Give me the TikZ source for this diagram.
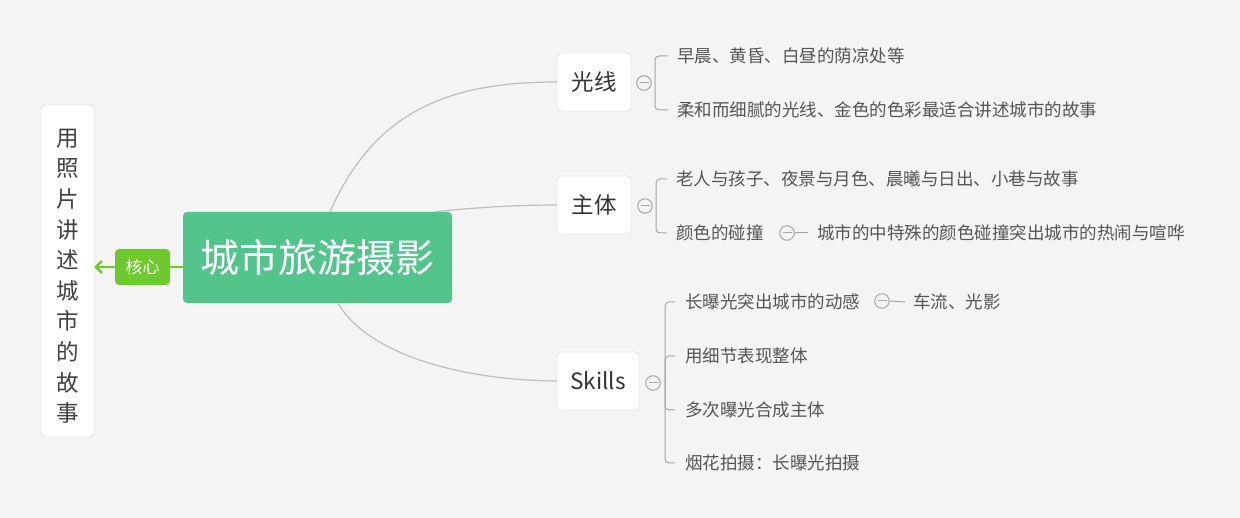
\documentclass[tikz,border=0pt]{standalone}
\usepackage{fontspec}
\setmainfont{Noto Sans CJK SC}
\usetikzlibrary{arrows.meta}
\definecolor{bg}{HTML}{F4F4F4}
\definecolor{maingreen}{HTML}{52C48C}
\definecolor{tagGreen}{HTML}{6DC92E}
\definecolor{linegray}{HTML}{BDBDBD}
\definecolor{boxgray}{HTML}{CFCFCF}
\definecolor{txtgray}{HTML}{555555}

\begin{document}
\begin{tikzpicture}[x=1pt,y=-1pt]
					\fill[bg] (0,0) rectangle (1240,518);
					\useasboundingbox (0,0) rectangle (1240,518);
					\tikzstyle{topic}=[draw=boxgray,fill=white,rounded corners=4pt,text=black!80,font=\fontsize{22.5}{27}\selectfont,minimum height=58pt,inner xsep=0pt]
					\tikzstyle{leaf}=[anchor=west,inner sep=0pt,text=txtgray,font=\fontsize{17.5}{21}\selectfont]
					\tikzstyle{fold}=[circle,draw=black!35,line width=1pt,minimum size=14.5pt,inner sep=0pt,path picture={\draw[black!35,line width=1pt] ([xshift=-4.5pt]path picture bounding box.center) -- ([xshift=4.5pt]path picture bounding box.center);}]
					\tikzstyle{branch}=[linegray,line width=1.2pt]
					\tikzstyle{bracket}=[black!35,line width=1pt,rounded corners=4pt]
					% centre and left side
					\path (317.5,257.5) node[fill=maingreen,rounded corners=4pt,minimum width=269pt,minimum height=91pt,text=white,font=\fontsize{39}{45}\selectfont] (city) {城市旅游摄影};
					\path (142.5,267) node[fill=tagGreen,rounded corners=4pt,minimum width=55pt,minimum height=36pt,text=white,font=\fontsize{17}{20}\selectfont] (core) {核心};
					\path (67.5,271) node[draw=boxgray,fill=white,rounded corners=4pt,minimum width=53pt,minimum height=332pt,text=black!75,font=\fontsize{22.5}{30.6}\selectfont] (story) {\begin{tabular}{@{}c@{}}\rule{0pt}{35pt}用\\照\\片\\讲\\述\\城\\市\\的\\故\\事\end{tabular}};
					\draw[tagGreen,line width=2.5pt] (city.west |- core.east) -- (core.east);
					\draw[tagGreen,line width=2.5pt,-{Straight Barb[length=6pt,width=12pt]}] (core.west) -- (story.east |- core.west);
					% topics
					\path (594,82) node[topic,minimum width=74pt] (light) {光线};
					\path (594,205) node[topic,minimum width=74pt] (subject) {主体};
					\path (598,381) node[topic,minimum width=82pt] (skills) {Skills};
					\draw[branch] ([xshift=12.5pt]city.north) .. controls (375,110) and (450,82) .. (light.west);
					\draw[branch] ([xshift=117.5pt]city.north) .. controls (480,207) and (520,205) .. (subject.west);
					\draw[branch] ([xshift=20.5pt]city.south) .. controls (365,350) and (450,380) .. (skills.west);
					\path (644,83) node[fold] (f1) {};
					\path (645,206) node[fold] (f2) {};
					\path (653,383) node[fold] (f3) {};
					\path (787,233) node[fold] (f4) {};
					\path (882,301) node[fold] (f5) {};
					% leaves
					\path (677,56) node[leaf] (l1) {早晨、黄昏、白昼的荫凉处等};
					\path (677,110) node[leaf] (l2) {柔和而细腻的光线、金色的色彩最适合讲述城市的故事};
					\path (676,179) node[leaf] (s1) {老人与孩子、夜景与月色、晨曦与日出、小巷与故事};
					\path (676,233) node[leaf] (s2) {颜色的碰撞};
					\path (817,233) node[leaf] (s3) {城市的中特殊的颜色碰撞突出城市的热闹与喧哗};
					\path (685,302) node[leaf] (k1) {长曝光突出城市的动感};
					\path (913,302) node[leaf] (k2) {车流、光影};
					\path (685,356) node[leaf] (k3) {用细节表现整体};
					\path (685,410) node[leaf] (k4) {多次曝光合成主体};
					\path (685,463) node[leaf] (k5) {烟花拍摄：长曝光拍摄};
					\coordinate (b1) at (655,83);
					\coordinate (b2) at (656,206);
					\coordinate (b3) at (665,383);
					\draw[bracket] ([xshift=-9pt]l1.west) -| (b1) |- ([xshift=-9pt]l2.west);
					\draw[bracket] ([xshift=-9pt]s1.west) -| (b2) |- ([xshift=-9pt]s2.west);
					\foreach \k in {k1,k3,k4,k5}
						\draw[bracket] (b3) |- ([xshift=-10pt]\k.west);
					\draw[bracket] (f4.east) -- ([xshift=-9pt]s3.west);
					\draw[bracket] (f5.east) -- ([xshift=-8pt]k2.west);
\end{tikzpicture}
\end{document}
